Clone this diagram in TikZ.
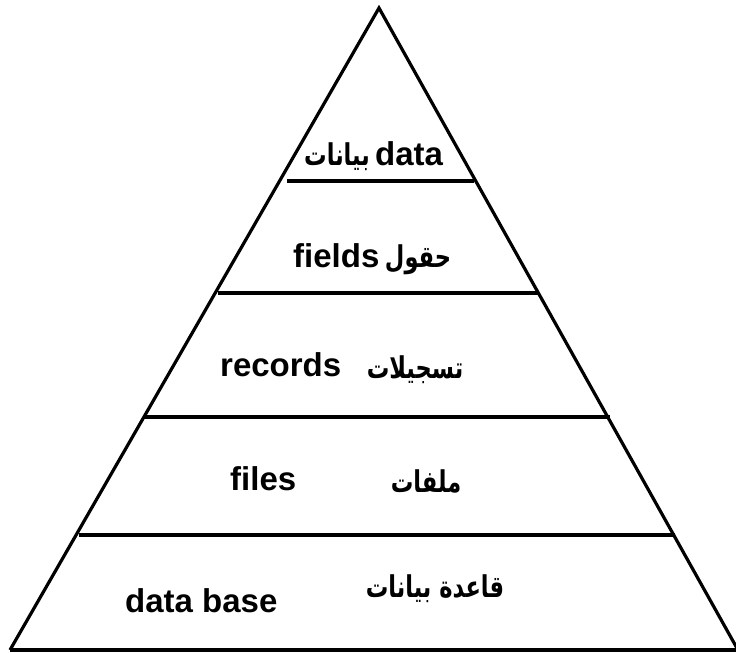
\documentclass[tikz,border=0pt]{standalone}
\usepackage{fontspec}
\setmainfont{Liberation Sans}
\newfontfamily\arabicfont[Script=Arabic]{DejaVu Sans}
\TeXXeTstate=1
\newcommand{\artext}[1]{\scalebox{0.75}[1]{\beginR #1\endR}}
\begin{document}
\begin{tikzpicture}[x=1pt,y=-1pt,
  side/.style={line width=3.2pt,line join=miter},
  level/.style={line width=4pt},
  lat/.style={anchor=base west,inner sep=0pt,font=\fontsize{33}{36}\selectfont\bfseries},
  arb/.style={anchor=base,inner sep=0pt,font=\fontsize{30}{34}\selectfont\arabicfont\bfseries}]
\useasboundingbox (0,0) rectangle (736,653);
\coordinate (apex) at (379,8);
\coordinate (bl) at (10,650);
\coordinate (br) at (738,650);
\draw[side] (bl) -- (apex) -- (br);
\draw[level] (bl) -- (br);
\coordinate (l1a) at (287,181); \coordinate (l1b) at (474,181);
\coordinate (l2a) at (218,293); \coordinate (l2b) at (538,293);
\coordinate (l3a) at (144,417); \coordinate (l3b) at (610,417);
\coordinate (l4a) at (79,535);  \coordinate (l4b) at (675,535);
\draw[level] (l1a) -- (l1b);
\draw[level] (l2a) -- (l2b);
\draw[level] (l3a) -- (l3b);
\draw[level] (l4a) -- (l4b);
\node[lat] (t1) at (375,165) {data};
\node[arb] (a1) at (337,165) {\artext{بيانات}};
\node[lat] (t2) at (293,267) {fields};
\node[arb] (a2) at (418,267) {\artext{حقول}};
\node[lat] (t3) at (220,376) {records};
\node[arb] (a3) at (415,378) {\artext{تسجيلات}};
\node[lat] (t4) at (230,490) {files};
\node[arb] (a4) at (426,492) {\artext{ملفات}};
\node[lat] (t5) at (125,612) {data base};
\node[arb] (a5) at (435,597) {\artext{قاعدة بيانات}};
\end{tikzpicture}
\end{document}
